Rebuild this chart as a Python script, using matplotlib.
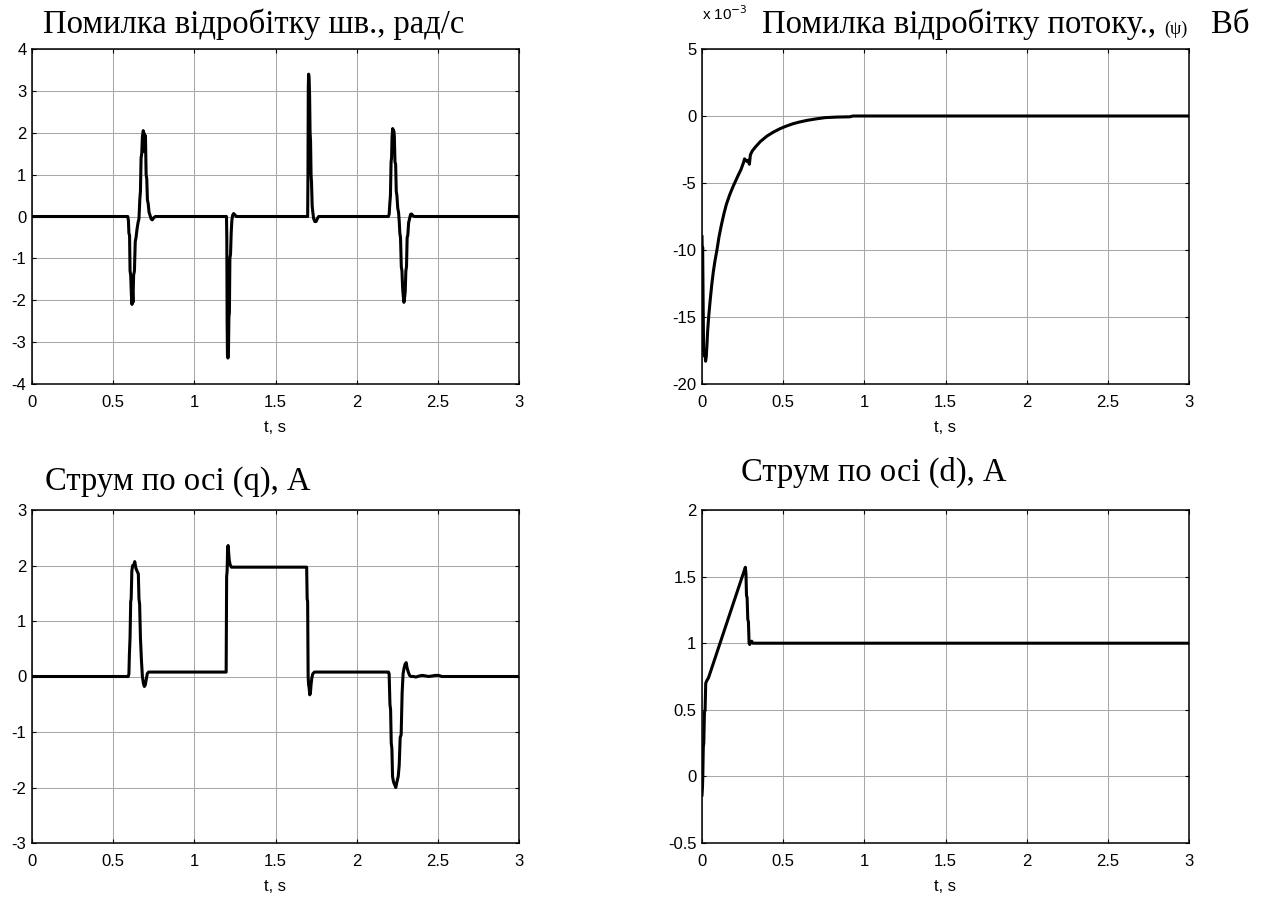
import numpy as np
import matplotlib
matplotlib.use("Agg")
from matplotlib import pyplot as plt
from matplotlib.ticker import FuncFormatter

# speed tracking error, rad/s
t_w = [0.000, 0.590, 0.594, 0.597, 0.601, 0.604, 0.608, 0.612, 0.616, 0.619, 0.622,
       0.626, 0.631, 0.636, 0.641, 0.647, 0.653, 0.659, 0.664, 0.668, 0.672, 0.676,
       0.680, 0.685, 0.689, 0.692, 0.695, 0.699, 0.703, 0.707, 0.711, 0.716, 0.721,
       0.727, 0.734, 0.741, 0.750, 0.760,
       1.198, 1.200, 1.202, 1.204, 1.207, 1.210, 1.213, 1.216, 1.219, 1.223, 1.227,
       1.231, 1.236, 1.242, 1.250, 1.258,
       1.698, 1.700, 1.702, 1.704, 1.707, 1.710, 1.713, 1.716, 1.719, 1.722, 1.726,
       1.730, 1.735, 1.742, 1.750, 1.758, 1.766,
       2.195, 2.200, 2.204, 2.208, 2.212, 2.215, 2.218, 2.222, 2.225, 2.228, 2.232,
       2.236, 2.240, 2.244, 2.248, 2.253, 2.258, 2.262, 2.266, 2.270, 2.275, 2.279,
       2.283, 2.287, 2.291, 2.295, 2.299, 2.303, 2.307, 2.311, 2.315, 2.320, 2.326,
       2.332, 2.338, 2.346, 2.355, 3.000]
err_w = [0.0, 0.0, -0.10, -0.40, -0.45, -1.30, -1.40, -1.85, -2.10, -1.80, -2.05,
         -1.40, -1.30, -0.60, -0.50, -0.30, -0.15, -0.05, 0.40, 0.60, 1.40, 1.50,
         1.90, 2.05, 2.00, 1.55, 1.95, 1.90, 1.00, 0.90, 0.40, 0.30, 0.10,
         0.03, -0.06, -0.08, -0.03, 0.0,
         0.0, -0.5, -2.5, -3.30, -3.38, -3.30, -2.40, -2.30, -1.00, -0.90, -0.40,
         -0.10, 0.03, 0.07, 0.04, 0.0,
         0.0, 1.0, 3.10, 3.40, 3.30, 2.90, 2.00, 1.80, 1.00, 0.80, 0.25,
         0.10, -0.05, -0.12, -0.12, -0.05, 0.0,
         0.0, 0.05, 0.30, 0.50, 1.30, 1.40, 1.90, 2.10, 1.60, 2.05, 1.90,
         1.30, 1.25, 0.60, 0.50, 0.20, 0.10, -0.10, -0.40, -0.50, -1.20, -1.30,
         -1.70, -1.90, -2.05, -1.95, -1.80, -1.30, -1.20, -0.50, -0.45, -0.15, -0.05,
         0.05, 0.06, 0.02, 0.0, 0.0]

# flux tracking error, x 10^-3 Wb
t_psi = [0.000, 0.002, 0.004, 0.007, 0.010, 0.014, 0.018, 0.022, 0.026, 0.030, 0.035,
         0.041, 0.050, 0.060, 0.070, 0.080, 0.092, 0.105, 0.120, 0.135, 0.150, 0.170,
         0.190, 0.205, 0.220, 0.240, 0.255, 0.262, 0.270, 0.278, 0.285, 0.292, 0.298,
         0.310, 0.330, 0.360, 0.400, 0.440, 0.480, 0.520, 0.560, 0.600, 0.650, 0.700,
         0.760, 0.830, 0.910, 0.930, 3.000]
err_psi = [-9.0, -10.3, -9.8, -14.0, -17.5, -17.9, -17.6, -18.3, -18.0, -17.2, -16.0,
           -15.0, -13.8, -12.6, -11.6, -10.8, -10.0, -9.0, -8.1, -7.3, -6.6, -5.9,
           -5.3, -4.9, -4.5, -4.0, -3.5, -3.2, -3.3, -3.4, -3.3, -3.6, -2.9,
           -2.6, -2.3, -1.9, -1.5, -1.2, -0.95, -0.75, -0.58, -0.45, -0.32, -0.22,
           -0.12, -0.08, -0.06, 0.0, 0.0]

# q-axis current, A
t_iq = [0.000, 0.593, 0.597, 0.600, 0.604, 0.608, 0.611, 0.615, 0.620, 0.626, 0.633,
        0.640, 0.647, 0.655, 0.659, 0.663, 0.668, 0.674, 0.680, 0.686, 0.692, 0.698,
        0.704, 0.710, 0.718,
        1.196, 1.199, 1.202, 1.205, 1.208, 1.211, 1.215, 1.220, 1.228,
        1.692, 1.695, 1.698, 1.701, 1.704, 1.707, 1.711, 1.715, 1.719, 1.724, 1.730,
        1.740,
        2.196, 2.200, 2.205, 2.209, 2.213, 2.217, 2.221, 2.227, 2.234, 2.241, 2.248,
        2.256, 2.262, 2.268, 2.274, 2.280, 2.286, 2.292, 2.298, 2.305, 2.311, 2.318,
        2.326, 2.335, 2.350, 2.365, 2.385, 2.405, 2.425, 2.445, 2.465, 2.485, 2.505,
        2.525, 3.000]
iq = [0.0, 0.0, 0.05, 0.40, 0.70, 1.35, 1.40, 1.90, 2.00, 2.00, 2.07,
      1.95, 1.90, 1.85, 1.40, 1.30, 0.70, 0.30, 0.00, -0.12, -0.18, -0.15,
      -0.05, 0.05, 0.08,
      0.08, 1.80, 1.90, 2.30, 2.36, 2.25, 2.10, 2.02, 1.97,
      1.97, 1.40, 1.35, 0.00, -0.15, -0.20, -0.33, -0.30, -0.15, -0.02, 0.05,
      0.08,
      0.08, 0.05, -0.50, -0.60, -1.20, -1.30, -1.80, -1.90, -1.95, -2.00, -1.90,
      -1.80, -1.60, -1.10, -1.05, -0.30, 0.05, 0.15, 0.22, 0.25, 0.15, 0.08,
      0.02, 0.00, 0.00, -0.01, 0.01, 0.02, 0.01, 0.00, 0.01, 0.02, 0.02,
      0.00, 0.00]

# d-axis current, A
t_id = [0.000, 0.003, 0.005, 0.008, 0.011, 0.015, 0.019, 0.023, 0.030, 0.040, 0.267,
        0.271, 0.274, 0.278, 0.282, 0.286, 0.290, 0.294, 0.300, 0.306, 0.313, 3.000]
id_ = [-0.14, -0.08, 0.01, 0.22, 0.25, 0.48, 0.50, 0.70, 0.72, 0.74, 1.57,
       1.52, 1.36, 1.34, 1.18, 1.16, 1.00, 0.99, 1.01, 1.015, 1.00, 1.00]

W, H = 1268, 900
plt.rcParams['axes.unicode_minus'] = False
fig = plt.figure(figsize=(W / 100, H / 100), dpi=100)

tick_font = 'Liberation Sans'
title_font = 'Liberation Serif'


def px_rect(x0, y0, x1, y1):
    return [x0 / W, 1 - y1 / H, (x1 - x0) / W, (y1 - y0) / H]


def style(ax, yticks):
    ax.set_xlim(0, 3)
    ax.set_ylim(yticks[0], yticks[-1])
    ax.set_xticks(np.arange(0, 3.01, 0.5))
    ax.set_yticks(yticks)
    fmt = FuncFormatter(lambda v, p: f"{v:g}")
    ax.xaxis.set_major_formatter(fmt)
    ax.yaxis.set_major_formatter(fmt)
    ax.grid(True, color='#a8a8a8', lw=0.75)
    ax.set_axisbelow(True)
    ax.tick_params(direction='in', top=True, right=True, length=3, width=0.8,
                   labelsize=12)
    ax.tick_params(axis='x', pad=8)
    ax.tick_params(axis='y', pad=4)
    for lab in ax.get_xticklabels() + ax.get_yticklabels():
        lab.set_fontfamily(tick_font)
    for s in ax.spines.values():
        s.set_linewidth(1.1)
    ax.set_xlabel("t, s", fontsize=12, family=tick_font, labelpad=7)


ax1 = fig.add_axes(px_rect(32, 49, 519, 384))
ax1.plot(t_w, err_w, color='black', lw=2.2)
style(ax1, np.arange(-4, 4.01, 1))

ax2 = fig.add_axes(px_rect(702, 49, 1189, 384))
ax2.plot(t_psi, err_psi, color='black', lw=2.2)
style(ax2, np.arange(-20, 5.01, 5))

ax3 = fig.add_axes(px_rect(32, 510, 519, 843))
ax3.plot(t_iq, iq, color='black', lw=2.2)
style(ax3, np.arange(-3, 3.01, 1))

ax4 = fig.add_axes(px_rect(702, 510, 1189, 843))
ax4.plot(t_id, id_, color='black', lw=2.2)
style(ax4, np.arange(-0.5, 2.01, 0.5))


def ftext(x, y, s, **kw):
    fig.text(x / W, 1 - y / H, s, va='baseline', ha='left', **kw)


ftext(43, 33, "Помилка відробітку шв., рад/с", fontsize=23.5, family=title_font)
ftext(762, 33, "Помилка відробітку потоку.,", fontsize=23.5, family=title_font)
ftext(1164, 34, "(ψ)", fontsize=13, family=title_font)
ftext(1211, 33, "Вб", fontsize=23.5, family=title_font)
ftext(702, 20, r"x 10$^{-3}$", fontsize=11, family=tick_font)
ftext(45, 490, "Струм по осі (q), А", fontsize=23.5, family=title_font)
ftext(741, 481, "Струм по осі (d), А", fontsize=23.5, family=title_font)

fig.savefig("out.png", dpi=100)
